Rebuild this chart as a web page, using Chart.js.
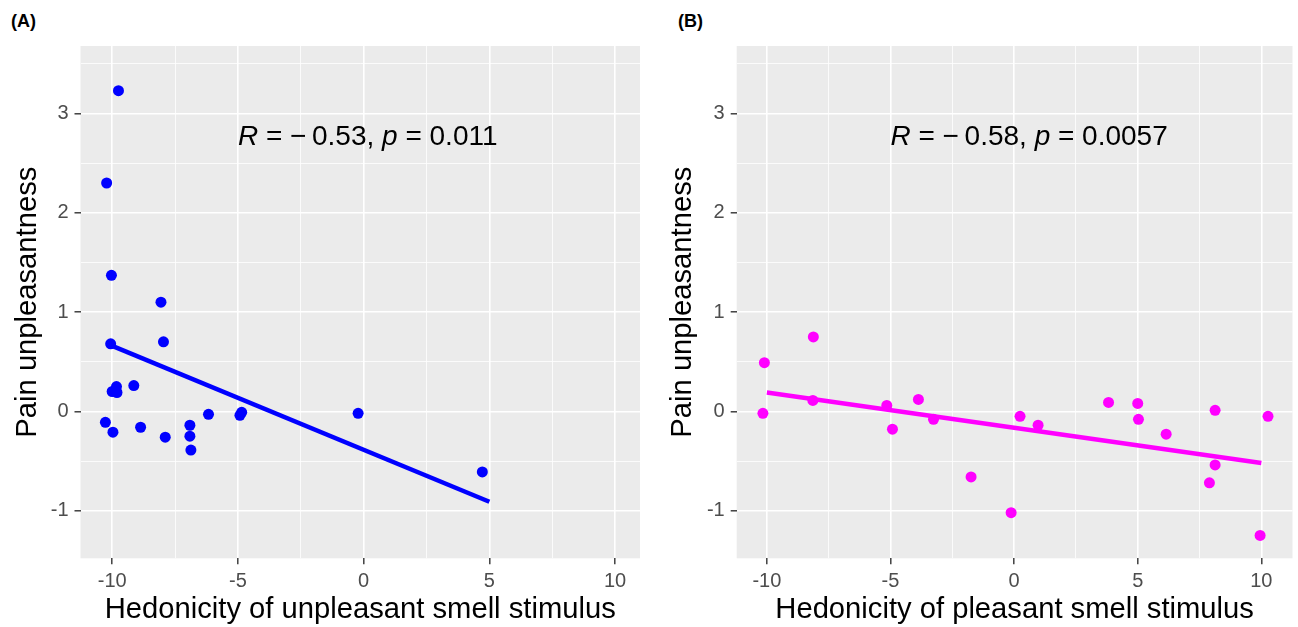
<!DOCTYPE html>
<html>
<head>
<meta charset="utf-8">
<title>Pain unpleasantness vs smell hedonicity</title>
<script src="https://cdn.jsdelivr.net/npm/chart.js@4.4.1/dist/chart.umd.min.js"></script>
<style>
  html, body { margin: 0; padding: 0; background: #fff; }
  #wrap { position: relative; width: 1298px; height: 627px; overflow: hidden; font-family: "Liberation Sans", Arial, sans-serif; }
  .panel { position: absolute; top: 0; height: 627px; }
  .tag { position: absolute; top: 11px; font-weight: bold; font-size: 18px; color: #000; }
</style>
</head>
<body>
<div id="wrap">
  <div class="tag" style="left:11px">(A)</div>
  <div class="tag" style="left:678px">(B)</div>
  <div class="panel" style="left:0;width:650px"><canvas id="chartA"></canvas></div>
  <div class="panel" style="left:650px;width:648px"><canvas id="chartB"></canvas></div>
</div>
<script>
// ---- data (points are jittered in the original) ----
const unpleasantX = [-9.75, -10.22, -10.03, -8.06, -10.06, -7.96, -10.0, -9.83, -9.81, -9.14, -10.27,
                     -9.97, -8.87, -7.89, -6.91, -6.91, -6.87, -6.17, -4.92, -4.85, -0.22, 4.72];
const unpleasantY = [3.23, 2.30, 1.37, 1.10, 0.68, 0.70, 0.20, 0.25, 0.19, 0.26, -0.11,
                     -0.21, -0.16, -0.26, -0.14, -0.25, -0.39, -0.03, -0.04, -0.01, -0.02, -0.61];
const unpleasantFitX = [-10, 5];
const unpleasantFitY = [0.66, -0.91];

const pleasantX = [-10.1, -8.12, -10.16, -8.14, -5.15, -4.92, -3.87, -3.26, -1.74, -0.12, 0.24,
                   0.97, 3.82, 5.0, 5.03, 6.15, 8.13, 8.13, 7.9, 10.27, 9.95];
const pleasantY = [0.49, 0.75, -0.02, 0.11, 0.06, -0.18, 0.12, -0.08, -0.66, -1.02, -0.05,
                   -0.14, 0.09, 0.08, -0.08, -0.23, 0.01, -0.54, -0.72, -0.05, -1.25];
const pleasantFitX = [-10, 10];
const pleasantFitY = [0.19, -0.52];

const xMajor = [-10, -5, 0, 5, 10];
const xMinor = [-7.5, -2.5, 2.5, 7.5];
const yMajor = [-1, 0, 1, 2, 3];
const yMinor = [-0.5, 0.5, 1.5, 2.5, 3.5];

const statA = ['-0.53', '0.011'];
const statB = ['-0.58', '0.0057'];

// ---- helpers ----
const FONT = '"Liberation Sans", Arial, sans-serif';

function toPoints(xs, ys) {
    return xs.map((x, i) => ({ x: x, y: ys[i] }));
}

// grey panel like ggplot's theme_grey
const panelBg = {
    id: 'panelBg',
    beforeDraw(chart) {
        const { ctx, chartArea: a } = chart;
        ctx.save();
        ctx.fillStyle = '#EBEBEB';
        ctx.fillRect(a.left, a.top, a.right - a.left, a.bottom - a.top);
        ctx.restore();
    }
};

// "R = -0.53, p = 0.011" with italic R and p, anchored at data coords
const corLabel = {
    id: 'corLabel',
    afterDatasetsDraw(chart, args, opts) {
        const { ctx } = chart;
        let x = chart.scales.x.getPixelForValue(opts.x);
        const y = chart.scales.y.getPixelForValue(opts.y);
        const size = 28;
        const parts = [
            ['R', true], [' = ', false], ['\u2212', false], ['\u2009' + opts.r.replace('-', '') + ', ', false],
            ['p', true], [' = ' + opts.p, false]
        ];
        ctx.save();
        ctx.fillStyle = '#000';
        ctx.textBaseline = 'alphabetic';
        ctx.textAlign = 'left';
        parts.forEach(([t, it]) => {
            ctx.font = (it ? 'italic ' : '') + size + 'px ' + FONT;
            ctx.fillText(t, x, y);
            x += ctx.measureText(t).width;
        });
        ctx.restore();
    }
};

function axis(kind, major, minor, min, max, title, fitSize, titlePad) {
    const all = major.concat(minor).sort((a, b) => a - b);
    return {
        type: 'linear',
        min: min,
        max: max,
        border: { display: false },
        afterBuildTicks: (scale) => { scale.ticks = all.map(v => ({ value: v })); },
        afterFit: (scale) => {
            if (kind === 'y') scale.width = fitSize; else scale.height = fitSize;
        },
        grid: {
            color: '#FFFFFF',
            lineWidth: (c) => major.includes(c.tick.value) ? 1.6 : 0.8,
            drawTicks: true,
            tickLength: 6,
            tickWidth: 1.4,
            tickColor: (c) => major.includes(c.tick.value) ? '#333333' : 'rgba(0,0,0,0)'
        },
        ticks: {
            padding: kind === 'y' ? 6 : 5,
            color: '#4D4D4D',
            font: { family: FONT, size: 20 },
            maxRotation: 0,
            autoSkip: false,
            callback: (v) => major.includes(v) ? String(v) : ''
        },
        title: {
            display: true,
            text: title,
            color: '#000',
            font: { family: FONT, size: 29.2, lineHeight: 1 },
            padding: titlePad
        }
    };
}

function makeChart(id, cfg) {
    return new Chart(document.getElementById(id), {
        type: 'scatter',
        data: {
            datasets: [
                {
                    data: toPoints(cfg.fitX, cfg.fitY),
                    showLine: true,
                    borderColor: cfg.color,
                    borderWidth: 4.5,
                    pointRadius: 0,
                    borderCapStyle: 'butt'
                },
                {
                    data: toPoints(cfg.xs, cfg.ys),
                    backgroundColor: cfg.color,
                    borderWidth: 0,
                    pointRadius: 5.5
                }
            ]
        },
        options: {
            responsive: true,
            maintainAspectRatio: false,
            animation: false,
            events: [],
            layout: { padding: { top: 46, right: cfg.padRight, bottom: 0, left: 0 } },
            plugins: {
                legend: { display: false },
                tooltip: { enabled: false },
                corLabel: { x: -5, y: 2.68, r: cfg.stat[0], p: cfg.stat[1] }
            },
            scales: {
                x: axis('x', xMajor, xMinor, cfg.xMin, cfg.xMax, cfg.xTitle, 68.7, { top: 0, bottom: 2.4 }),
                y: axis('y', yMajor, yMinor, -1.48, 3.68, 'Pain unpleasantness', cfg.yWidth, { top: cfg.yTitlePad, bottom: 0 })
            }
        },
        plugins: [panelBg, corLabel]
    });
}

makeChart('chartA', {
    xs: unpleasantX, ys: unpleasantY, fitX: unpleasantFitX, fitY: unpleasantFitY,
    color: '#0000FF', stat: statA,
    xMin: -11.26, xMax: 10.99,
    xTitle: 'Hedonicity of unpleasant smell stimulus',
    yWidth: 80.5, yTitlePad: 13.4, padRight: 10
});

makeChart('chartB', {
    xs: pleasantX, ys: pleasantY, fitX: pleasantFitX, fitY: pleasantFitY,
    color: '#FF00FF', stat: statB,
    xMin: -11.22, xMax: 11.26,
    xTitle: 'Hedonicity of pleasant smell stimulus',
    yWidth: 86.7, yTitlePad: 18.4, padRight: 1
});
</script>
</body>
</html>
